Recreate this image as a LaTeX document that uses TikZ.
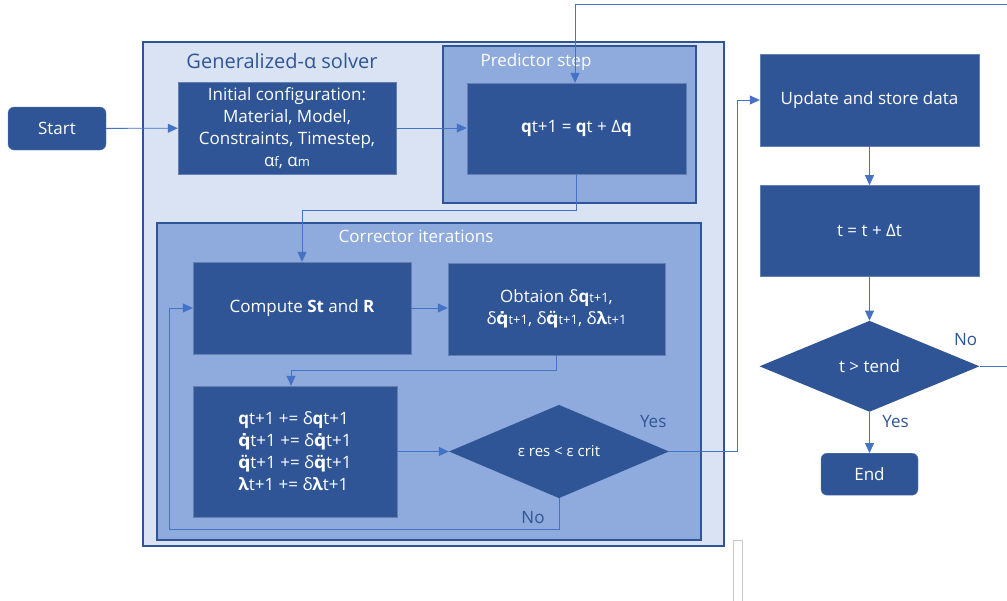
\documentclass[tikz,border=0pt]{standalone}
\usepackage{fontspec}
\setmainfont{Open Sans}
\newfontfamily\dejavu{DejaVu Sans}
\usetikzlibrary{positioning,arrows.meta,shapes.geometric}
\definecolor{boxblue}{HTML}{2F5597}
\definecolor{paleblue}{HTML}{DAE3F3}
\definecolor{midblue}{HTML}{8FAADC}
\definecolor{linkblue}{HTML}{4472C4}
\newcommand{\sm}[1]{{\fontsize{13}{22}\selectfont #1}}
\newcommand{\qdot}{{\dejavu\bfseries q̇}}
\newcommand{\qddot}{{\dejavu\bfseries q̈}}

\begin{document}
\begin{tikzpicture}[x=1pt, y=-1pt,
      font=\fontsize{17}{22}\selectfont,
      box/.style={draw=boxblue!75!white, fill=boxblue, text=white, align=center, inner sep=0pt, minimum width=218pt, minimum height=92pt},
      term/.style={box, rounded corners=6pt, minimum width=98pt, minimum height=43pt},
      test/.style={diamond, fill=boxblue, text=white, inner sep=0pt, minimum width=220pt, minimum height=91pt},
      group/.style={draw=boxblue, line width=1.5pt, inner sep=0pt},
      title/.style={text=white},
      lbl/.style={text=boxblue},
      arr/.style={-{Triangle[length=10pt, width=9pt]}, linkblue, line width=0.8pt}]
    \useasboundingbox (0,0) rectangle (1007,600);
    \fill[white] (0,0) rectangle (1007,600);
    \clip (0,0) rectangle (1007,600);
    \node[group, fill=paleblue, minimum width=581pt, minimum height=504pt] (solver) at (433.5,294) {};
    \node[group, fill=midblue, minimum width=253pt, minimum height=157pt] (pred) at (569.5,124.5) {};
    \node[group, fill=midblue, minimum width=544pt, minimum height=317pt] (corr) at (429,381.5) {};
    \node[lbl, font=\fontsize{20}{24}\selectfont] (solvertitle) at (282,61) {Generalized-α solver};
    \node[title] (predtitle) at (536,62) {Predictor step};
    \node[title] (corrtitle) at (416,236) {Corrector iterations};

    \node[term] (start) at (57,128.5) {Start};
    \node[box] (init) at (287,128) {Initial configuration:\\Material, Model,\\Constraints, Timestep,\\α\sm{f}, α\sm{m}};
    \node[box, minimum width=219pt, minimum height=91pt] (qbox) at (576.5,128.5) {\textbf{q}t+1 = \textbf{q}t + Δ\textbf{q}};
    \node[box] (compute) at (302,308) {Compute \textbf{St} and \textbf{R}};
    \node[box, minimum width=217pt] (obtain) at (556.5,309) {Obtaion δ\textbf{q}\sm{t+1},\\δ\qdot\sm{t+1}, δ\qddot\sm{t+1}, δ\textbf{λ}\sm{t+1}};
    \node[box, minimum width=204pt, minimum height=131pt, align=left] (updates) at (295,451.5) {\textbf{q}t+1 += δ\textbf{q}t+1\\\qdot t+1 += δ\qdot t+1\\\qddot t+1 += δ\qddot t+1\\\textbf{λ}t+1 += δ\textbf{λ}t+1};
    \node[test] (check) at (559,451.5) {\fontsize{15}{20}\selectfont ε res < ε crit};

    \node[box, minimum width=219pt] (update) at (869.5,100) {Update and store data};
    \node[box, minimum width=219pt, minimum height=91pt, below=39pt of update] (step) {t = t + Δt};
    \node[test, below=44pt of step] (tcheck) {t > tend};
    \node[term, minimum width=97pt, minimum height=42pt, below=41pt of tcheck] (end) {End};

    \node[lbl] (yes1) at ([xshift=-16pt, yshift=30pt]check.east) {Yes};
    \node[lbl] (no1) at ([xshift=-26pt, yshift=-19pt]check.south) {No};
    \node[lbl] (no2) at ([xshift=-14pt, yshift=27pt]tcheck.east) {No};
    \node[lbl] (yes2) at ([xshift=26pt, yshift=-10pt]tcheck.south) {Yes};

    \draw[arr] (start) -- (init);
    \draw[arr] (init.east) -- (init.east -| qbox.west);
    \draw[arr] (qbox.south) -- ++(0,36) -| (compute.north);
    \draw[arr] (compute.east) -- (compute.east -| obtain.west);
    \draw[arr] (obtain.south) -- ++(0,15) -| ([xshift=-4pt]updates.north);
    \draw[arr] (updates) -- (check);
    \draw[arr] (check.south) -- ++(0,31) -| ([xshift=-23pt]compute.west) -- (compute.west);
    \draw[arr] (check.east) -- ++(68,0) |- (update.west);
    \draw[arr] (update) -- (step);
    \draw[arr] (step) -- (tcheck);
    \draw[arr] (tcheck) -- (end);
    \draw[arr] (tcheck.east) -- ++(40,0) |- ([xshift=-1.5pt, yshift=78pt]qbox.north) -- ([xshift=-1.5pt]qbox.north);

    \draw[black!22] (733,540) rectangle (742,604);
  \end{tikzpicture}
\end{document}
